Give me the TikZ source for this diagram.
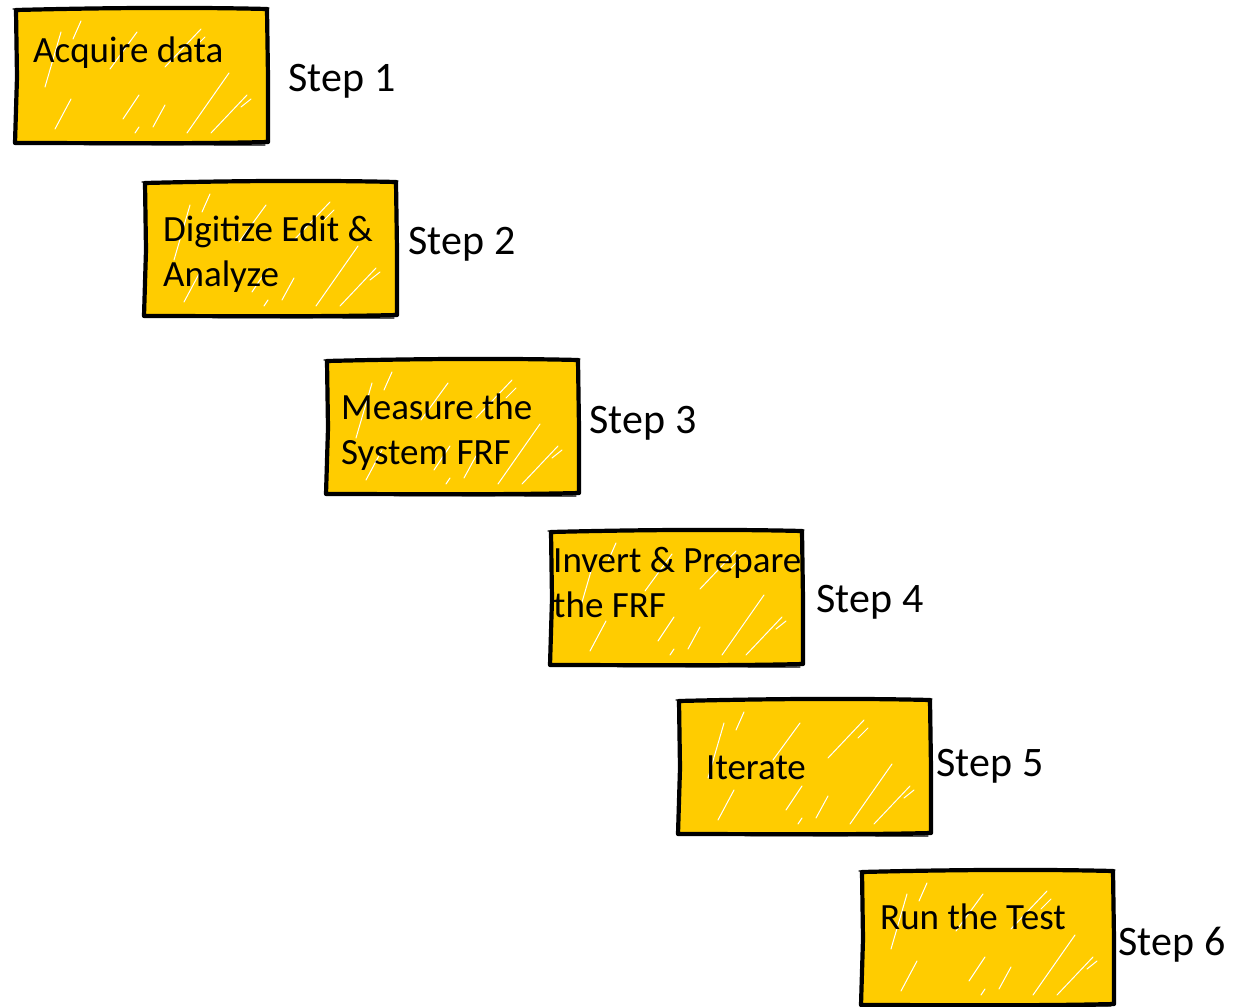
\documentclass[tikz,border=0pt]{standalone}
\usepackage{fontspec}
\setmainfont{Carlito}
\begin{document}
\begin{tikzpicture}[x=1pt,y=-1pt,
  boxfill/.style={fill=boxyellow,draw=none,minimum width=250pt,minimum height=134pt,inner sep=0pt},
  boxtext/.style={anchor=west,align=left,inner sep=0pt,font=\fontsize{37}{45}\selectfont},
  steplabel/.style={inner sep=0pt,font=\fontsize{42}{50}\selectfont},
  edge/.style={line width=4.2pt,line join=round,line cap=round},
  hatch/.style={white,line width=1pt,line cap=round}]
\definecolor{boxyellow}{HTML}{FFCC00}
\useasboundingbox (0,0) rectangle (1235,1007);
% macro to draw sketchy box: #1 name, #2 x, #3 y (top-left)
\newcommand{\sketchbox}[3]{%
  \node[boxfill,anchor=north west] (#1) at (#2+1,#3+1) {};
  \begin{scope}[shift={(#2,#3)}]
    \foreach \a/\b/\c/\d in {30/80/46/25, 58/32/66/14, 95/62/122/25, 150/60/186/22, 40/122/56/92, 108/112/124/88, 138/120/150/98, 172/126/214/66, 196/126/232/88, 226/100/236/92, 120/126/124/120, 180/40/190/30}
      \draw[hatch] (\a,\b) -- (\c,\d);
    \draw[edge] (1,3) .. controls (80,1) and (170,0) .. (252,2)
      -- (253,70) -- (253,135) .. controls (170,137) and (80,136) .. (0,136)
      -- (2,70) -- cycle;
    \draw[line width=1.4pt,line cap=round] (-2,2) -- (254,1);
    \draw[line width=1.4pt,line cap=round] (0,137) -- (250,138);
  \end{scope}}
\sketchbox{b1}{15}{7}
\sketchbox{b2}{144}{180}
\sketchbox{b3}{326}{358}
\sketchbox{b4}{550}{529}
\sketchbox{b5}{678}{698}
\sketchbox{b6}{861}{869}
\node[boxtext] (t1) at (33,53) {Acquire data};
\node[boxtext] (t2) at (163,254) {Digitize Edit \&\\Analyze};
\node[boxtext] (t3) at (341,432) {Measure the\\System FRF};
\node[boxtext] (t4) at (553,582) {Invert \& Prepare\\the FRF};
\node[boxtext] (t5) at (706,768) {Iterate};
\node[boxtext] (t6) at (880,917) {Run the Test};
\node[steplabel] (s1) at (342,81) {Step 1};
\node[steplabel] (s2) at (462,244) {Step 2};
\node[steplabel] (s3) at (643,423) {Step 3};
\node[steplabel] (s4) at (870,602) {Step 4};
\node[steplabel] (s5) at (990,766) {Step 5};
\node[steplabel] (s6) at (1172,945) {Step 6};
\end{tikzpicture}
\end{document}
